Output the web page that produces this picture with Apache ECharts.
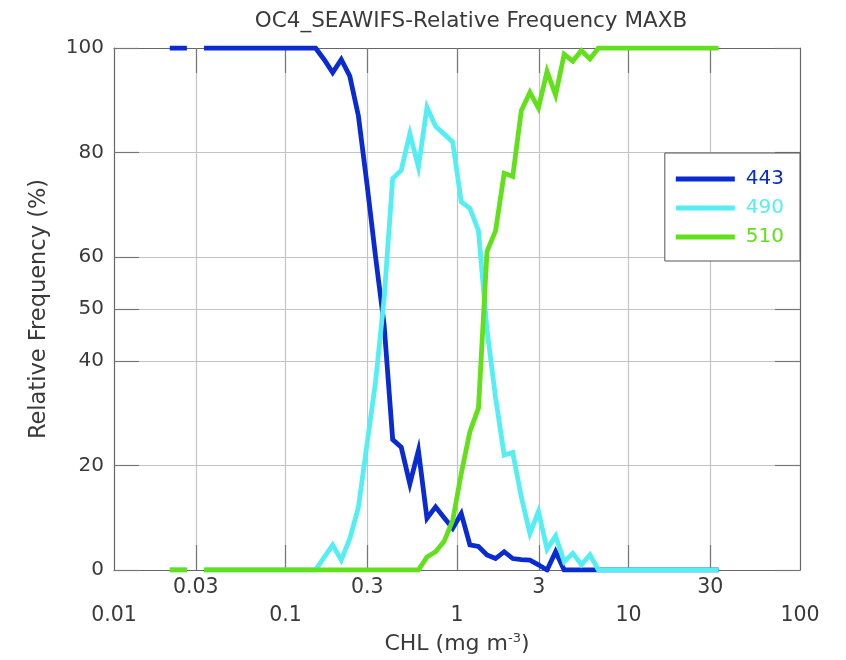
<!DOCTYPE html>
<html><head><meta charset="utf-8">
<script src="https://cdn.jsdelivr.net/npm/echarts@6/dist/echarts.min.js"></script>
<style>html,body{margin:0;padding:0;background:#fff}#c{width:846px;height:660px}</style>
</head><body><div id="c"></div>
<script>
// CHL bin centres (mg m-3)
const chl = [0.02114,0.02371,0.02661,0.02985,0.03350,0.03758,0.04217,0.04732,0.05309,0.05957,
  0.06683,0.07499,0.08414,0.09441,0.1059,0.1189,0.1334,0.1496,0.1679,0.1884,
  0.2114,0.2371,0.2661,0.2985,0.3350,0.3758,0.4217,0.4732,0.5309,0.5957,
  0.6683,0.7499,0.8414,0.9441,1.059,1.189,1.334,1.496,1.679,1.884,
  2.114,2.371,2.661,2.985,3.350,3.758,4.217,4.732,5.309,5.957,
  6.683,7.499,8.414,9.441,10.59,11.89,13.34,14.96,16.79,18.84,
  21.14,23.71,26.61,29.85,33.50];
// Relative frequency (%) per band
const freq443 = [100,100,100,null,100,100,100,100,100,100,
  100,100,100,100,100,100,100,100,97.8,95.3,
  97.8,94.6,87,74,60,47,25,23.5,16.5,22.9,
  9.9,12.1,10,8,10.8,4.8,4.5,2.9,2.2,3.5,
  2.2,2.0,1.9,1.0,0,3.5,0,0,0,0,
  0,0,0,0,0,0,0,0,0,0,
  0,0,0,0,0];
const freq490 = [0,0,0,null,0,0,0,0,0,0,
  0,0,0,0,0,0,0,0,2.4,4.8,
  1.9,6,12,24,36,52,75,76.6,83.6,77.2,
  88.6,85,83.5,82,70.5,69.3,65,46,33,22,
  22.5,14,7,11.2,4,6.5,1.6,3.2,1.0,2.9,
  0,0,0,0,0,0,0,0,0,0,
  0,0,0,0,0];
const freq510 = [0,0,0,null,0,0,0,0,0,0,
  0,0,0,0,0,0,0,0,0,0,
  0,0,0,0,0,0,0,0,0,0,
  2.5,3.5,5.5,9.5,18.5,26.5,31,61,65,76,
  75.4,88,91.5,88.5,95.5,91,98.8,97.5,99.5,97.9,
  100,100,100,100,100,100,100,100,100,100,
  100,100,100,100,100];
const seriesNames = ['443','490','510'];
const seriesColors = ['#0a2bd2','#55eef2','#62e01c'];
const xLabelsLower = [0.01,0.1,1,10,100];
const xLabelsUpper = [0.03,0.3,3,30];
const xGridValues = [0.03,0.1,0.3,1,3,10,30];
const yTicks = [0,20,40,50,60,80,100];

const FONT = 'DejaVu Sans';
const TXT = '#3a3a3a';
const pairs = arr => chl.map((x,i) => [x, arr[i] === null ? '-' : arr[i]]);
const allSeries = [freq443, freq490, freq510];

const chart = echarts.init(document.getElementById('c'), null, {renderer:'canvas'});
const fmt = v => String(v);
const baseX = {
  type:'log', logBase:10, min:0.01, max:100
};
chart.setOption({
  animation:false,
  backgroundColor:'#fff',
  textStyle:{fontFamily:FONT},
  title:{
    text:'OC4_SEAWIFS-Relative Frequency MAXB',
    left:466, top:5, textAlign:'center',
    textStyle:{fontFamily:FONT, fontSize:21.5, fontWeight:'normal', color:TXT}
  },
  grid:{left:114, right:46, top:48, bottom:88, containLabel:false},
  legend:{
    right:46, top:153, orient:'vertical',
    padding:[16,16,14,11],
    backgroundColor:'#fff', borderColor:'#555', borderWidth:1,
    itemWidth:59, itemHeight:5, itemGap:9, icon:'rect',
    textStyle:{fontFamily:FONT, fontSize:20, padding:[0,0,0,6]},
    data: seriesNames.map((n,i)=>({name:n, textStyle:{color:seriesColors[i]}}))
  },
  xAxis:[
    Object.assign({}, baseX, {
      position:'bottom',
      name:'CHL (mg m{sup|-3})', nameLocation:'middle', nameGap:62,
      nameTextStyle:{fontFamily:FONT, fontSize:22, color:TXT,
        rich:{sup:{fontFamily:FONT, fontSize:13, color:TXT, verticalAlign:'top', padding:[0,0,11,0]}}},
      axisLine:{show:true, lineStyle:{color:'#666', width:1.2}},
      axisTick:{show:true, inside:true, length:25, customValues:xGridValues, lineStyle:{color:'#777', width:1.2}},
      splitLine:{show:true, lineStyle:{color:'#c4c4c4', width:1.2}},
      minorTick:{show:false}, minorSplitLine:{show:false},
      axisLabel:{show:true, customValues:xLabelsLower, margin:35, formatter:fmt,
        fontFamily:FONT, fontSize:20.5, color:TXT}
    }),
    Object.assign({}, baseX, {
      position:'bottom', gridIndex:0,
      axisLine:{show:false}, axisTick:{show:false}, splitLine:{show:false},
      axisLabel:{show:true, customValues:xLabelsUpper, margin:7, formatter:fmt,
        fontFamily:FONT, fontSize:20.5, color:TXT}
    }),
    Object.assign({}, baseX, {
      position:'top', gridIndex:0,
      axisLine:{show:true, lineStyle:{color:'#666', width:1.2}},
      axisTick:{show:true, inside:true, length:25, customValues:xGridValues, lineStyle:{color:'#777', width:1.2}},
      splitLine:{show:false},
      axisLabel:{show:false}
    })
  ],
  yAxis:[
    {
      type:'value', min:0, max:100, position:'left',
      name:'Relative Frequency (%)', nameLocation:'middle', nameGap:63,
      nameTextStyle:{fontFamily:FONT, fontSize:22.5, color:TXT},
      axisLine:{show:true, lineStyle:{color:'#666', width:1.2}},
      axisTick:{show:true, inside:true, length:25, customValues:yTicks, lineStyle:{color:'#777', width:1.2}},
      splitLine:{show:true, lineStyle:{color:'#c4c4c4', width:1.2}},
      axisLabel:{show:true, customValues:yTicks, margin:10, fontFamily:FONT, fontSize:20, color:TXT}
    },
    {
      type:'value', min:0, max:100, position:'right',
      axisLine:{show:true, lineStyle:{color:'#666', width:1.2}},
      axisTick:{show:true, inside:true, length:25, customValues:yTicks, lineStyle:{color:'#777', width:1.2}},
      splitLine:{show:false},
      axisLabel:{show:false}
    }
  ],
  series: seriesNames.map((n,i)=>({
    name:n, type:'line', xAxisIndex:0, yAxisIndex:0,
    data: pairs(allSeries[i]),
    showSymbol:false, symbol:'none', connectNulls:false,
    lineStyle:{color:seriesColors[i], width:4.8, join:'miter'},
    itemStyle:{color:seriesColors[i]},
    z:2+i
  }))
});
</script></body></html>
